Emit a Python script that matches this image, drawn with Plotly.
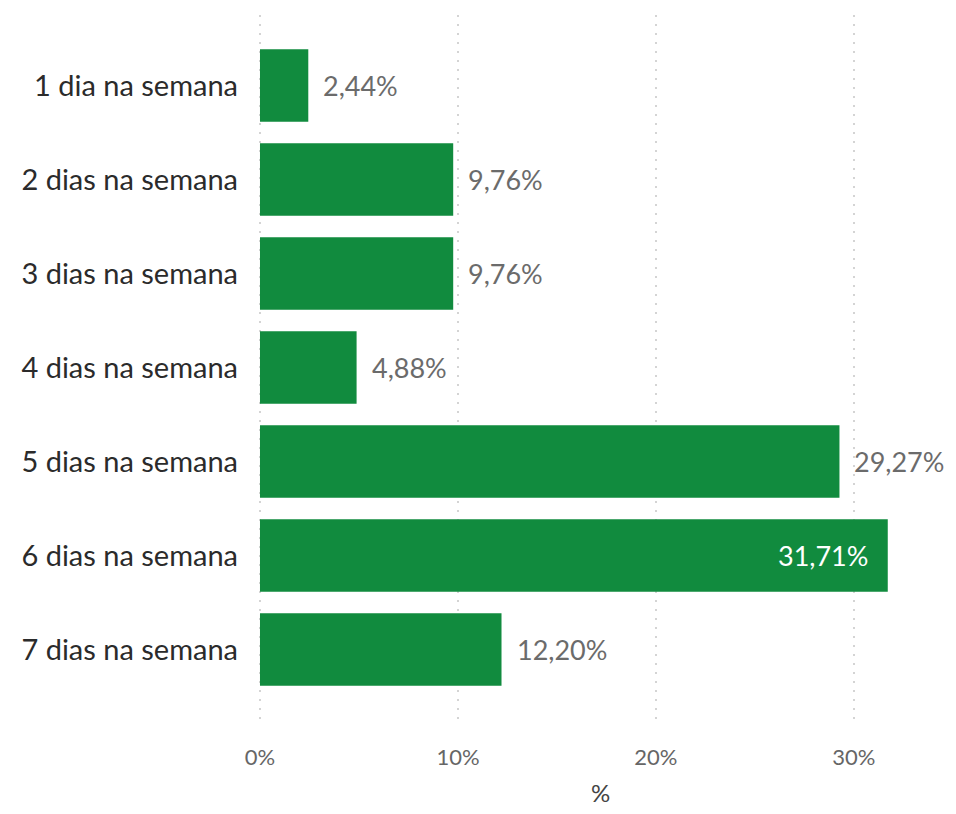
import plotly.graph_objects as go

categories = ["1 dia na semana", "2 dias na semana", "3 dias na semana", "4 dias na semana",
              "5 dias na semana", "6 dias na semana", "7 dias na semana"]
values = [2.44, 9.76, 9.76, 4.88, 29.27, 31.71, 12.20]
inside_labels = [False, False, False, False, False, True, False]
tick_vals = [0, 10, 20, 30]
tick_text = ["0%", "10%", "20%", "30%"]
x_title = "%"

GREEN = "#118B3E"
FONT = "Lato"

def fmt(v):
    return f"{v:.2f}%".replace(".", ",")

fig = go.Figure()
fig.add_trace(go.Bar(
    y=categories, x=values, orientation="h",
    marker=dict(color=GREEN, line=dict(width=0)),
    width=0.77, hoverinfo="skip",
))

for cat, v, ins in zip(categories, values, inside_labels):
    fig.add_annotation(
        x=v, y=cat, text=fmt(v), showarrow=False,
        xanchor="right" if ins else "left",
        xshift=-18 if ins else 13,
        font=dict(family=FONT, size=27, color="#FFFFFF" if ins else "#6B6B6B"),
    )

fig.add_annotation(
    x=0.5, y=-0.103, xref="paper", yref="paper", text=x_title, showarrow=False,
    xanchor="center", yanchor="middle",
    font=dict(family=FONT, size=24, color="#444444"),
)

fig.update_layout(
    width=940, height=798,
    margin=dict(l=250, r=5, t=7, b=86, autoexpand=False),
    plot_bgcolor="white", paper_bgcolor="white",
    showlegend=False,
    font=dict(family=FONT),
    xaxis=dict(
        range=[-0.1, 34.5], tickvals=tick_vals, ticktext=tick_text,
        showgrid=True, gridcolor="#D4D4D4", griddash="2px,7px", gridwidth=2,
        zeroline=False, showline=False, automargin=False,
        tickfont=dict(family=FONT, size=22, color="#666666"),
        ticklabelstandoff=22,
    ),
    yaxis=dict(
        range=[6.75, -0.75], type="category",
        showgrid=False, zeroline=False, showline=False, automargin=False,
        tickfont=dict(family=FONT, size=29, color="#2B2B2B"),
        ticklabelstandoff=19,
    ),
)

fig.write_html("out.html")
